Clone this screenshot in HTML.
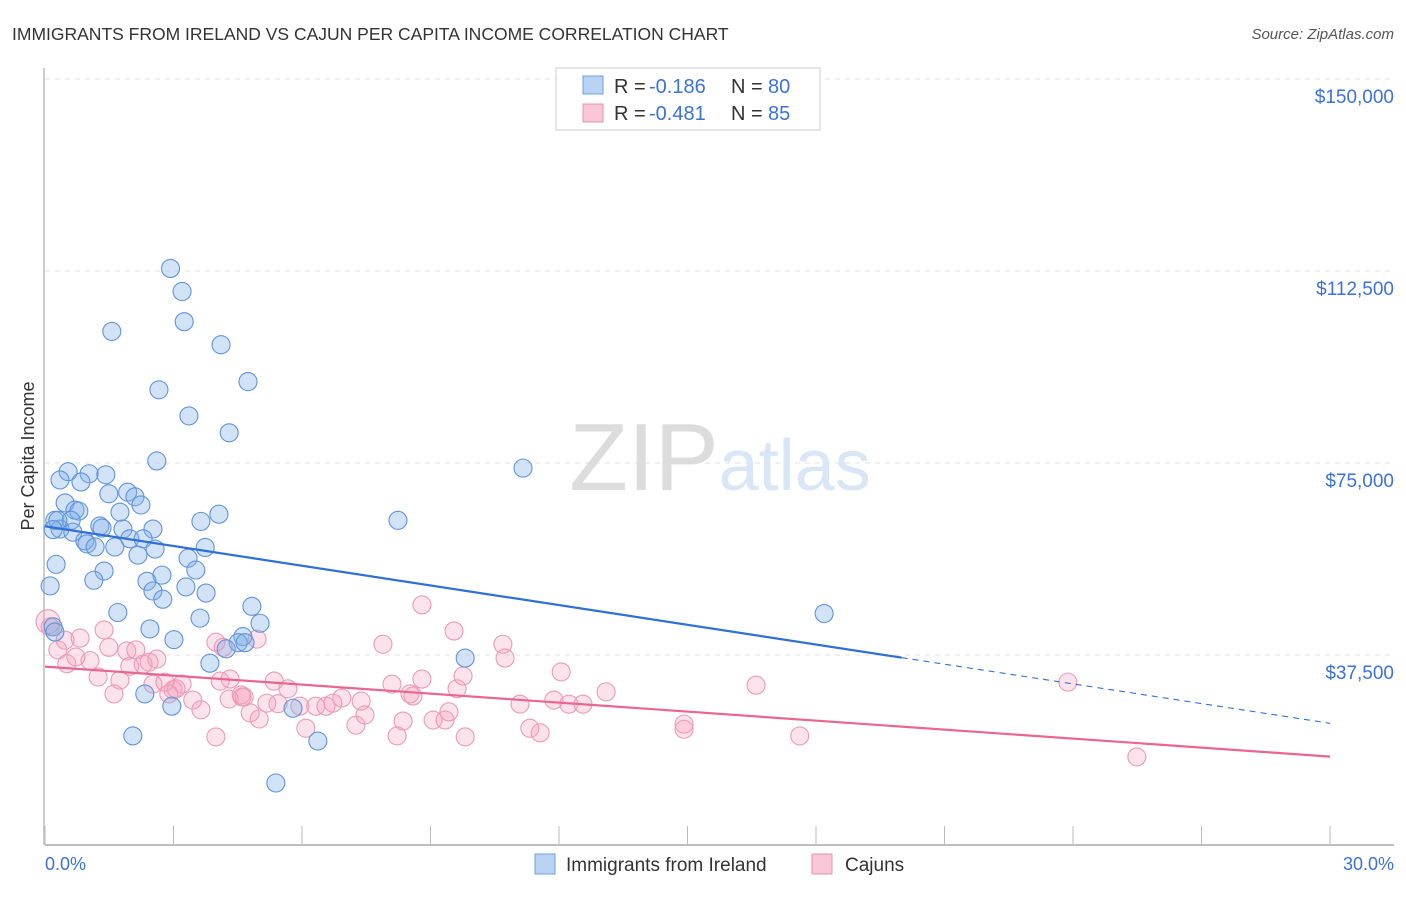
<!DOCTYPE html>
<html><head><meta charset="utf-8"><style>
body{margin:0;background:#fff;font-family:"Liberation Sans",sans-serif;}
svg text{font-family:"Liberation Sans",sans-serif;}
</style></head><body>
<svg width="1406" height="892" xmlns="http://www.w3.org/2000/svg">
<text x="12" y="40" font-size="17.5" fill="#333">IMMIGRANTS FROM IRELAND VS CAJUN PER CAPITA INCOME CORRELATION CHART</text>
<text x="1394" y="39" font-size="15" fill="#555" font-style="italic" text-anchor="end">Source: ZipAtlas.com</text>
<g id="grid"></g>
<text x="720" y="490" font-size="96" fill="#e4e4e4" text-anchor="middle" font-family="Liberation Serif"><tspan fill="#dcdcdc">ZIP</tspan><tspan fill="#d8e6f5" font-family="Liberation Sans" font-size="72">atlas</tspan></text>
<text x="34" y="456" font-size="18" fill="#333" text-anchor="middle" transform="rotate(-90 34 456)">Per Capita Income</text>
<g id="pts"></g>
<g id="lines"></g>
<g>
<rect x="556" y="68" width="264" height="62" fill="#fff" stroke="#ccc"/>
<rect x="583" y="76" width="20" height="18" fill="#b9d3f3" stroke="#6d9ee0"/>
<text x="614" y="93" font-size="20" fill="#333">R =</text><text x="649" y="93" font-size="20" fill="#3a72d6">-0.186</text>
<text x="731" y="93" font-size="20" fill="#333">N =</text><text x="768" y="93" font-size="20" fill="#3a72d6">80</text>
<rect x="583" y="104" width="20" height="18" fill="#f8c6d6" stroke="#e891ae"/>
<text x="614" y="120" font-size="20" fill="#333">R =</text><text x="649" y="120" font-size="20" fill="#3a72d6">-0.481</text>
<text x="731" y="120" font-size="20" fill="#333">N =</text><text x="768" y="120" font-size="20" fill="#3a72d6">85</text>
</g>
<text x="45" y="870" font-size="18" fill="#3a72d6">0.0%</text>
<text x="1394" y="870" font-size="18" fill="#3a72d6" text-anchor="end">30.0%</text>
<g><rect x="535" y="854" width="20" height="20" fill="#b9d3f3" stroke="#6d9ee0"/><text x="566" y="871" font-size="19" fill="#333">Immigrants from Ireland</text></g>
<g><rect x="812" y="854" width="20" height="20" fill="#f8c6d6" stroke="#e891ae"/><text x="845" y="871" font-size="19" fill="#333">Cajuns</text></g>
</svg>
<script>
const yTicks=[37500,75000,112500,150000];
const yTickLabels=["$37,500","$75,000","$112,500","$150,000"];
const xTicks=[0,3,6,9,12,15,18,21,24,27,30];
const blueX=[2.93,3.20,3.25,1.56,4.11,4.74,2.66,3.36,4.30,2.61,11.16,0.54,1.03,1.42,0.35,0.84,1.49,1.93,2.10,2.24,0.47,0.70,0.79,1.75,4.06,3.64,8.24,0.23,0.61,1.28,1.33,1.82,2.52,0.35,0.30,0.65,3.74,0.19,0.93,1.98,2.29,0.98,1.17,1.63,2.57,2.17,3.34,0.26,3.52,1.38,2.73,1.14,2.38,0.12,3.29,2.52,3.76,2.75,4.83,1.70,3.62,5.02,18.19,2.45,0.19,0.23,4.62,3.01,4.51,4.67,4.23,9.81,3.85,2.33,2.96,5.79,2.05,6.37,5.39];
const blueY=[113000,108500,102600,100700,98100,90900,89300,84200,80900,75400,74000,73300,72900,72700,71700,71300,69000,69300,68400,66800,67200,65800,65600,65400,65000,63600,63800,63800,63800,62700,62300,62100,62100,62100,63800,61500,58500,62000,59800,60200,60200,59200,58600,58600,58200,57000,56400,55200,54100,53900,53100,52100,51900,51000,50800,50000,49600,48400,47000,45800,44700,43700,45600,42600,43000,42000,41100,40500,39900,39900,38700,36900,35900,29900,27500,27100,21700,20700,12500];
const pinkX=[0.07,0.12,0.47,0.30,0.82,1.38,0.51,0.72,1.05,1.49,1.91,2.12,2.61,2.29,2.43,1.98,1.24,1.75,1.61,2.52,2.99,3.20,3.06,2.89,3.45,3.64,3.99,4.30,4.58,4.65,4.79,3.99,4.16,4.95,5.35,5.67,5.44,5.18,5.95,6.09,6.32,6.56,6.93,6.72,7.26,7.38,7.47,7.89,8.10,8.52,8.59,8.36,8.22,8.80,9.06,9.34,9.43,9.62,9.76,8.80,9.55,9.81,10.69,10.74,11.09,11.32,11.56,11.88,12.05,12.23,12.56,13.10,14.92,14.92,16.60,17.62,23.88,25.49,4.09,2.80,4.32,4.60,5.00];
const pinkY=[44000,43000,40400,38500,40800,42400,35800,37100,36400,39000,38300,38500,36700,35700,36100,35300,33200,32600,29900,31800,30700,31800,30900,29900,28700,26800,21500,28900,29700,29300,26200,40000,39000,40600,32400,30900,28000,28100,27500,23200,27500,27500,29100,28100,23800,28500,25800,39600,31800,29900,29500,24600,21700,32800,24800,24800,26400,30900,33400,47300,42200,21500,39600,36900,27900,23200,22300,28700,34200,27900,27900,30300,24000,23000,31600,21700,32200,17600,32400,32200,32800,29300,25000];
const ns="http://www.w3.org/2000/svg";
const X0=45,X1=1330,Y0=847,PPV=192/37500;
function sx(p){return X0+(p/30)*(X1-X0);}
function sy(v){return Y0-v*PPV;}
function mk(t,a){const e=document.createElementNS(ns,t);for(const k in a)e.setAttribute(k,a[k]);return e;}
const grid=document.getElementById('grid');
yTicks.forEach((v,i)=>{
 const l=mk('line',{x1:45,x2:1394,y1:sy(v),y2:sy(v),stroke:'#e2e2e2','stroke-dasharray':'5,5'});
 
 
 grid.appendChild(l);
 const t=mk('text',{x:1394,y:sy(v)+24,'font-size':19,fill:'#3a72d6','text-anchor':'end'});
 t.textContent=yTickLabels[i];
 
 
 grid.appendChild(t);
});
const ax=mk('line',{x1:45,x2:1394,y1:845,y2:845,stroke:'#aaa','stroke-width':1.5});


grid.appendChild(ax);
const ay=mk('line',{x1:44,x2:44,y1:68,y2:845,stroke:'#bbb','stroke-width':1.5});


grid.appendChild(ay);
xTicks.forEach(p=>{
 const l=mk('line',{x1:sx(p),x2:sx(p),y1:826,y2:845,stroke:'#bbb'});
 
 
 grid.appendChild(l);
});
const pts=document.getElementById('pts');
pinkX.forEach((p,i)=>{
 const c=mk('circle',{cx:sx(p),cy:sy(pinkY[i]),r:i==0?12:9,fill:'rgba(244,160,188,0.3)',stroke:'#ec9ab6','stroke-width':1.1});
 
 
 pts.appendChild(c);
});
blueX.forEach((p,i)=>{
 const c=mk('circle',{cx:sx(p),cy:sy(blueY[i]),r:9,fill:'rgba(130,175,232,0.35)',stroke:'#5f93dc','stroke-width':1.1});
 
 
 pts.appendChild(c);
});
const lines=document.getElementById('lines');
function fit(xs,ys){const n=xs.length;let mx=0,my=0;xs.forEach((x,i)=>{mx+=x;my+=ys[i];});mx/=n;my/=n;let sxy=0,sxx=0;xs.forEach((x,i)=>{sxy+=(x-mx)*(ys[i]-my);sxx+=(x-mx)*(x-mx);});const b=sxy/sxx;return [my-b*mx,b];}
const bf=fit(blueX,blueY),pf=fit(pinkX,pinkY);
const bEnd=20;
let l=mk('line',{x1:sx(0),y1:sy(bf[0]),x2:sx(bEnd),y2:sy(bf[0]+bf[1]*bEnd),stroke:'#2f6fd6','stroke-width':2.2});


lines.appendChild(l);
l=mk('line',{x1:sx(bEnd),y1:sy(bf[0]+bf[1]*bEnd),x2:sx(30),y2:sy(bf[0]+bf[1]*30),stroke:'#2f6fd6','stroke-width':1.1,'stroke-dasharray':'6,5'});


lines.appendChild(l);
l=mk('line',{x1:sx(0),y1:sy(pf[0]),x2:sx(30),y2:sy(pf[0]+pf[1]*30),stroke:'#e8668f','stroke-width':2.2});


lines.appendChild(l);
</script>
</body></html>
